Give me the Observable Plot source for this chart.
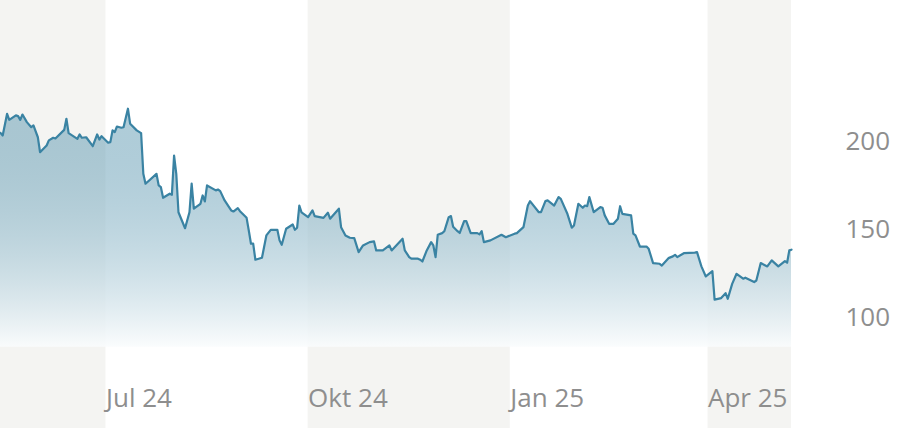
<!DOCTYPE html>
<html>
<head>
<meta charset="utf-8">
<script src="https://cdn.jsdelivr.net/npm/d3@7"></script>
<script src="https://cdn.jsdelivr.net/npm/@observablehq/plot@0.6"></script>
<style>
  html, body { margin: 0; padding: 0; background: #ffffff; }
  #chart { width: 902px; height: 428px; }
</style>
</head>
<body>
<div id="chart"></div>
<script>
const dates = [
  "2024-05-14","2024-05-15","2024-05-17","2024-05-18","2024-05-21","2024-05-22","2024-05-23","2024-05-24","2024-05-26","2024-05-28",
  "2024-05-29","2024-05-31","2024-06-01","2024-06-04","2024-06-05","2024-06-07","2024-06-08","2024-06-12","2024-06-13","2024-06-14",
  "2024-06-18","2024-06-19","2024-06-20","2024-06-22","2024-06-25","2024-06-27","2024-06-28","2024-06-29","2024-07-02","2024-07-03",
  "2024-07-04","2024-07-05","2024-07-06","2024-07-08","2024-07-09","2024-07-11","2024-07-12","2024-07-15","2024-07-17","2024-07-18",
  "2024-07-19","2024-07-24","2024-07-25","2024-07-26","2024-07-27","2024-07-30","2024-07-31","2024-08-01","2024-08-02","2024-08-03",
  "2024-08-06","2024-08-08","2024-08-09","2024-08-10","2024-08-13","2024-08-14","2024-08-15","2024-08-16","2024-08-20","2024-08-21",
  "2024-08-22","2024-08-24","2024-08-27","2024-08-28","2024-08-30","2024-08-31","2024-09-03","2024-09-04","2024-09-05","2024-09-06",
  "2024-09-07","2024-09-10","2024-09-12","2024-09-14","2024-09-17","2024-09-18","2024-09-19","2024-09-21","2024-09-24","2024-09-25",
  "2024-09-26","2024-09-27","2024-09-28","2024-10-01","2024-10-03","2024-10-04","2024-10-08","2024-10-10","2024-10-11","2024-10-15",
  "2024-10-16","2024-10-18","2024-10-20","2024-10-22","2024-10-24","2024-10-26","2024-10-29","2024-10-31","2024-11-01","2024-11-04",
  "2024-11-07","2024-11-08","2024-11-13","2024-11-14","2024-11-16","2024-11-17","2024-11-20","2024-11-21","2024-11-22","2024-11-24",
  "2024-11-26","2024-11-27","2024-11-28","2024-11-29","2024-12-01","2024-12-02","2024-12-04","2024-12-05","2024-12-06","2024-12-08",
  "2024-12-09","2024-12-11","2024-12-12","2024-12-14","2024-12-17","2024-12-18","2024-12-19","2024-12-20","2024-12-23","2024-12-28",
  "2024-12-30","2025-01-03","2025-01-04","2025-01-07","2025-01-09","2025-01-10","2025-01-14","2025-01-15","2025-01-17","2025-01-18",
  "2025-01-21","2025-01-23","2025-01-24","2025-01-27","2025-01-29","2025-01-30","2025-02-01","2025-02-03","2025-02-04","2025-02-05",
  "2025-02-06","2025-02-08","2025-02-11","2025-02-12","2025-02-13","2025-02-15","2025-02-17","2025-02-19","2025-02-20","2025-02-21",
  "2025-02-25","2025-02-26","2025-02-27","2025-03-01","2025-03-04","2025-03-05","2025-03-07","2025-03-10","2025-03-11","2025-03-14",
  "2025-03-16","2025-03-17","2025-03-18","2025-03-21","2025-03-26","2025-03-27","2025-03-29","2025-03-31","2025-04-03","2025-04-04",
  "2025-04-07","2025-04-09","2025-04-10","2025-04-12","2025-04-14","2025-04-17","2025-04-18","2025-04-22","2025-04-23","2025-04-25",
  "2025-04-28","2025-04-30","2025-05-03","2025-05-06","2025-05-07","2025-05-08","2025-05-09"
];
const prices = [
  204.9,203.4,215.7,212.3,214.8,214.4,212.3,215.3,211.0,208.1,
  209.1,202.4,193.9,197.7,200.6,202.1,201.7,206.6,212.9,204.7,
  201.5,204.0,202.1,202.4,197.3,204.0,201.1,203.0,199.3,199.6,
  206.3,205.3,208.5,207.8,208.1,218.6,210.1,206.3,204.7,181.6,
  176.0,181.6,175.0,174.0,168.0,170.3,169.7,192.0,181.6,159.8,
  150.7,159.8,176.0,161.8,164.6,169.3,165.9,175.0,172.2,172.7,
  171.8,166.5,160.8,160.2,162.1,160.4,156.6,149.4,141.9,141.9,
  132.8,133.9,146.6,149.8,149.8,143.8,141.3,150.4,152.8,149.8,
  151.0,163.6,159.7,157.0,160.8,157.6,156.6,159.5,156.1,161.8,
  151.3,146.6,145.3,145.1,137.1,140.9,142.8,143.2,138.1,138.1,
  140.9,138.1,144.7,138.1,134.3,133.4,133.4,132.8,131.8,138.1,
  142.8,140.9,134.3,147.0,147.9,149.0,157.0,157.6,151.5,149.0,
  148.0,154.7,154.7,147.9,147.9,147.2,149.0,142.8,143.8,147.0,
  145.6,147.6,147.9,151.3,163.6,166.1,159.8,159.8,166.1,166.5,
  163.6,168.4,167.4,158.9,151.0,152.3,164.6,162.3,163.6,163.2,
  168.4,159.8,162.7,162.3,158.0,153.2,153.2,156.1,163.2,158.9,
  158.0,147.6,146.6,140.3,140.3,139.0,130.9,130.5,129.5,133.7,
  134.7,135.6,134.3,136.5,136.8,137.1,129.0,123.3,126.3,110.1,
  111.0,113.8,110.6,119.1,124.8,122.0,122.6,120.1,121.0,130.9,
  129.0,132.4,129.0,132.0,131.1,138.1,138.5
];
const bandStarts = ["2024-05-14","2024-10-01","2025-04-01"];
const bandEnds   = ["2024-07-01","2025-01-01","2025-05-09"];
const tickDates  = ["2024-07-01","2024-10-01","2025-01-01","2025-04-01"];
const tickLabels = ["Jul 24","Okt 24","Jan 25","Apr 25"];
const yTicks = [100, 150, 200];
const baseValue = 83;

const parse = d3.utcParse("%Y-%m-%d");
const series = dates.map((d, i) => ({date: parse(d), price: prices[i]}));
const bands = bandStarts.map((s, i) => ({start: parse(s), end: parse(bandEnds[i])}));
const ticks = tickDates.map(parse);

function defs() {
  const ns = "http://www.w3.org/2000/svg";
  const g = document.createElementNS(ns, "defs");
  const lg = document.createElementNS(ns, "linearGradient");
  lg.setAttribute("id", "areaGrad");
  lg.setAttribute("x1", "0"); lg.setAttribute("x2", "0");
  lg.setAttribute("y1", "0"); lg.setAttribute("y2", "1");
  const stops = [["0%", "rgb(58,130,160)", "0.40"], ["100%", "rgb(250,252,253)", "0.9"]];
  for (const [o, c, op] of stops) {
    const s = document.createElementNS(ns, "stop");
    s.setAttribute("offset", o);
    s.setAttribute("stop-color", c);
    s.setAttribute("stop-opacity", op);
    lg.appendChild(s);
  }
  g.appendChild(lg);
  return g;
}

const chart = Plot.plot({
  width: 902,
  height: 428,
  marginLeft: 0,
  marginRight: 111,
  marginTop: 0,
  marginBottom: 0,
  style: {fontFamily: "'Open Sans', sans-serif", fontSize: "26px", color: "#8e8e8e", background: "#ffffff"},
  x: {type: "utc", domain: [parse("2024-05-14"), parse("2025-05-09")]},
  y: {domain: [36.9, 280.1]},
  marks: [
    defs,
    Plot.rect(bands, {x1: "start", x2: "end", fill: "#f4f4f2"}),
    Plot.areaY(series, {x: "date", y1: baseValue, y2: "price", fill: "url(#areaGrad)"}),
    Plot.lineY(series, {x: "date", y: "price", stroke: "#3a83a3", strokeWidth: 2.2, strokeLinejoin: "round"}),
    Plot.axisX({
      ticks: ticks, anchor: "bottom", tickSize: 0, tickPadding: 0,
      textAnchor: "start", lineAnchor: "middle", dy: -30,
      tickFormat: d => tickLabels[ticks.findIndex(t => +t === +d)],
      label: null
    }),
    Plot.axisY({
      ticks: yTicks, anchor: "right", tickSize: 0, tickPadding: 54,
      textAnchor: "start", label: null
    })
  ]
});
document.getElementById("chart").appendChild(chart);
</script>
</body>
</html>
